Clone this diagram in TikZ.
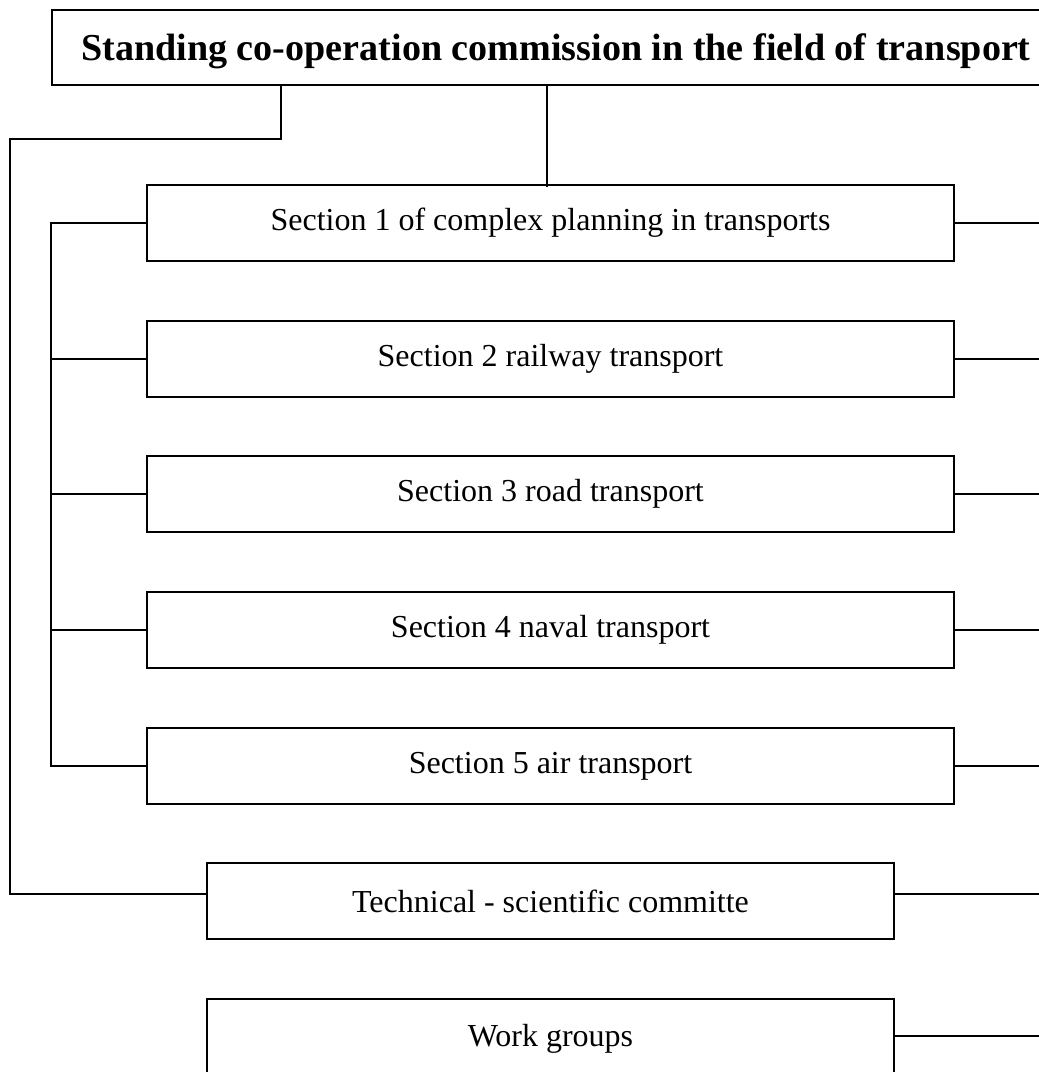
\documentclass[tikz,border=0pt]{standalone}
\usepackage{fontspec}
\setmainfont{Liberation Serif}
\usetikzlibrary{positioning,calc}

\tikzset{
  secbox/.style={draw, line width=1.6pt, minimum width=807pt, minimum height=76pt, inner sep=0pt, font=\fontsize{32}{36}\selectfont},
  smallbox/.style={secbox, minimum width=687pt},
  headbox/.style={draw, line width=2.2pt, minimum width=1008pt, minimum height=75pt, inner sep=0pt, text depth=0pt, font=\fontsize{38.1}{42}\selectfont\bfseries},
  link/.style={line width=1.6pt}
}

\begin{document}
\begin{tikzpicture}[x=1pt, y=-1pt, line cap=rect, line join=miter]
\useasboundingbox (0,0) rectangle (1039,1072);

\node[headbox] (head) at (556,47.5) {Standing co-operation commission in the field of transport};

\foreach \i/\y/\label in {1/223/Section 1 of complex planning in transports,
                          2/359/Section 2 railway transport,
                          3/494/Section 3 road transport,
                          4/630/Section 4 naval transport,
                          5/766/Section 5 air transport}{
  \node[secbox] (sec\i) at (550.5,\y) {\label};
}
\node[smallbox] (tech) at (550.5,901) {Technical - scientific committe};
\node[smallbox, minimum height=80pt] (work) at (550.5,1039) {Work groups};

\coordinate (rim) at (1039,0);
\coordinate (outer) at (10,139);

% head to section 1 and to the committee
\draw[link] (sec1.north |- head.south) ++(-3.5,0) -- ++(0,100);
\draw[link] ([xshift=230pt]head.south west) |- (outer) |- ([yshift=7pt]tech.west);

% left bus
\draw[link] (sec1.west) -- ++(-95,0) |- (sec5.west);
\foreach \i in {2,3,4}{
  \draw[link] (sec\i.west) -- ++(-95,0);
}

% right stubs
\foreach \i in {1,...,5}{
  \draw[link] (sec\i.east) -- (sec\i.east -| rim);
}
\draw[link] ([yshift=7pt]tech.east) -- ([yshift=7pt]tech.east -| rim);
\draw[link] ([yshift=3pt]work.east) -- ([yshift=3pt]work.east -| rim);

\end{tikzpicture}
\end{document}
